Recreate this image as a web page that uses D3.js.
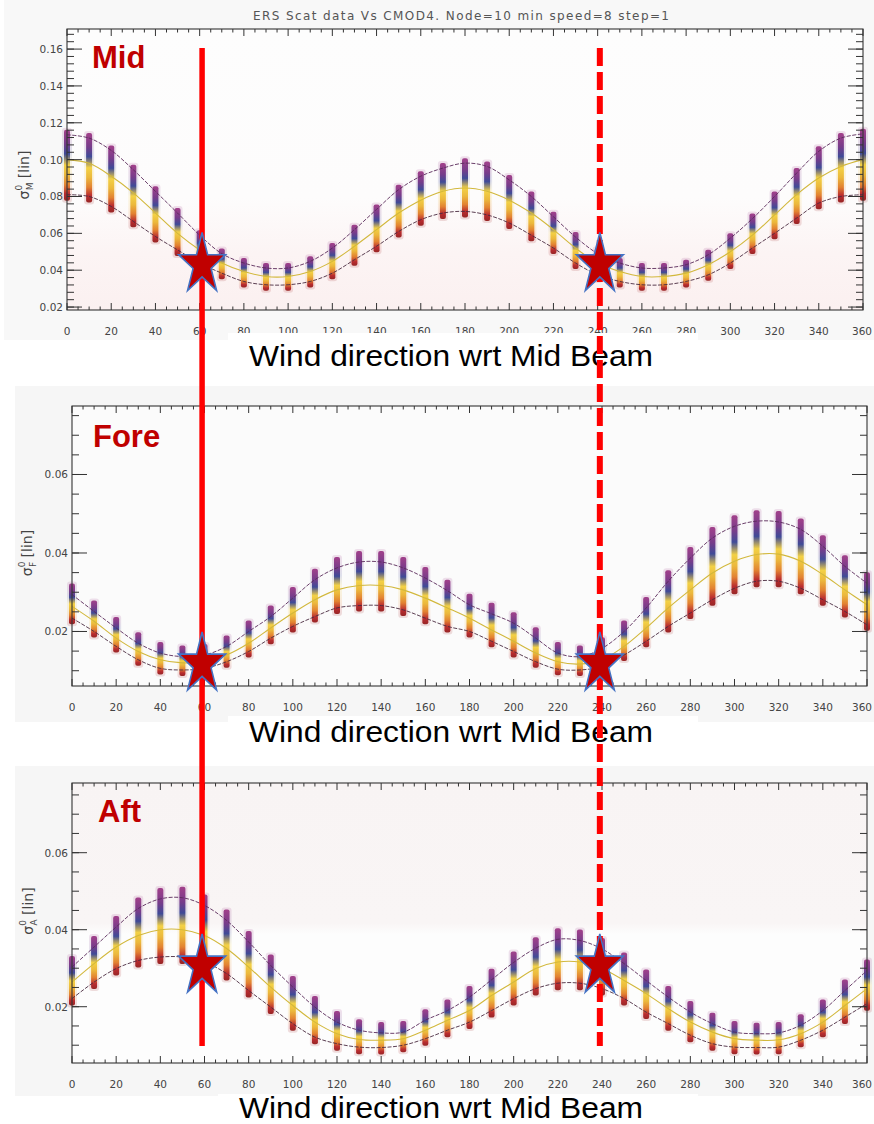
<!DOCTYPE html>
<html><head><meta charset="utf-8">
<script src="https://cdn.jsdelivr.net/npm/d3@7"></script>
<style>body{margin:0;background:#fff}svg{display:block}</style>
</head><body>
<svg id="chart" width="874" height="1124"></svg>
<script>
// ---------- DATA ----------
const directions = [0,10,20,30,40,50,60,70,80,90,100,110,120,130,140,150,160,170,180,190,200,210,220,230,240,250,260,270,280,290,300,310,320,330,340,350,360];
const xTickLabels = [0,20,40,60,80,100,120,140,160,180,200,220,240,260,280,300,320,340,360];

const midUpper  = [0.1135,0.1117,0.105,0.0945,0.0828,0.071,0.059,0.049,0.0439,0.0412,0.0412,0.0448,0.052,0.062,0.073,0.0837,0.091,0.0954,0.0981,0.0963,0.089,0.080,0.069,0.058,0.049,0.0439,0.0412,0.0412,0.043,0.0484,0.0574,0.068,0.080,0.0927,0.1045,0.1117,0.114];
const midMiddle = [0.100,0.098,0.091,0.082,0.071,0.060,0.051,0.0439,0.0393,0.0366,0.0366,0.0393,0.0448,0.053,0.062,0.071,0.078,0.0828,0.0846,0.0828,0.078,0.071,0.062,0.052,0.0439,0.0393,0.0366,0.0366,0.0384,0.043,0.050,0.059,0.070,0.081,0.090,0.0963,0.100];
const midLower  = [0.081,0.080,0.0746,0.0665,0.0583,0.051,0.0439,0.0384,0.0339,0.0321,0.0321,0.0339,0.0384,0.0457,0.053,0.061,0.0674,0.071,0.0719,0.070,0.0656,0.059,0.052,0.0439,0.0375,0.0339,0.0321,0.0321,0.0339,0.0375,0.0439,0.052,0.060,0.0683,0.0764,0.080,0.081];

const foreUpper  = [0.0294,0.0251,0.0209,0.017,0.0145,0.0136,0.014,0.0162,0.020,0.0238,0.0285,0.0332,0.0362,0.0377,0.0377,0.0362,0.0336,0.0304,0.0268,0.0245,0.0221,0.0183,0.0145,0.0136,0.0157,0.020,0.026,0.0328,0.0387,0.0438,0.0468,0.0481,0.0479,0.046,0.0417,0.0366,0.0323];
const foreMiddle = [0.0264,0.0226,0.0183,0.0149,0.0128,0.012,0.0123,0.014,0.017,0.0209,0.0247,0.0281,0.0306,0.0317,0.0317,0.0306,0.0285,0.026,0.0234,0.0204,0.0175,0.0145,0.0123,0.0117,0.0128,0.0162,0.0209,0.026,0.0306,0.0349,0.0379,0.0396,0.0397,0.0379,0.0345,0.0306,0.0268];
const foreLower  = [0.0234,0.020,0.0162,0.0128,0.0106,0.0102,0.0106,0.0123,0.0149,0.0183,0.0213,0.0238,0.026,0.0266,0.0266,0.0255,0.0234,0.0213,0.020,0.0175,0.0149,0.0123,0.0104,0.0102,0.0111,0.014,0.0175,0.0213,0.0247,0.0281,0.031,0.0328,0.0328,0.031,0.0281,0.0251,0.0217];

const aftUpper  = [0.0303,0.0355,0.0407,0.0455,0.048,0.0483,0.0463,0.0424,0.0368,0.0307,0.0251,0.0199,0.016,0.0139,0.0132,0.0134,0.0165,0.019,0.0225,0.027,0.0315,0.0352,0.0375,0.0372,0.035,0.0312,0.0268,0.0225,0.0186,0.0156,0.0134,0.013,0.0132,0.0152,0.019,0.0242,0.0294];
const aftMiddle = [0.0264,0.0312,0.0355,0.0385,0.040,0.040,0.0385,0.0351,0.0303,0.0251,0.0203,0.016,0.013,0.0115,0.0113,0.0117,0.0139,0.0165,0.019,0.0229,0.0264,0.0299,0.0316,0.0316,0.0299,0.0268,0.0234,0.0195,0.016,0.0134,0.0117,0.0113,0.0114,0.013,0.016,0.0203,0.0247];
const aftLower  = [0.0221,0.0264,0.0299,0.032,0.0329,0.0329,0.0316,0.0286,0.0242,0.0199,0.0156,0.0121,0.0104,0.0095,0.0094,0.01,0.0117,0.0139,0.016,0.019,0.0221,0.0247,0.0261,0.0261,0.0247,0.0221,0.0186,0.0156,0.0126,0.0104,0.0095,0.0094,0.0095,0.0113,0.0139,0.0173,0.0208];

const midYTicks  = [0.02,0.04,0.06,0.08,0.10,0.12,0.14,0.16];
const foreYTicks = [0.02,0.04,0.06];
const aftYTicks  = [0.02,0.04,0.06];

const beamLabels = ["Mid","Fore","Aft"];
const beamSubs = ["M","F","A"];
const markerDirections = [60, 240];
const markerValues = [[0.0447,0.0447],[0.01248,0.01248],[0.03135,0.03135]];
const titleText = "ERS Scat data Vs CMOD4. Node=10  min speed=8  step=1";
const xAxisTitle = "Wind direction wrt Mid Beam";

// ---------- LAYOUT ----------
const svg = d3.select("#chart");
const panels = [
  {label:beamLabels[0], sub:beamSubs[0], up:midUpper, mid:midMiddle, lo:midLower, yTicks:midYTicks,
   frame:{x0:67,x1:863,y0:29,y1:310}, yDom:[0.0184,0.1709], minorStep:0.004, minorFrom:0.02, minorTo:0.1685,
   bg:[4,0,870,340], bgFill:"#f8f8f8", padTop:5, padBot:6,
   labelPos:[92,68], ylabX:29, ylabY:175, titleBox:[228,333,470,50], titlePos:[249,366], markers:markerValues[0]},
  {label:beamLabels[1], sub:beamSubs[1], up:foreUpper, mid:foreMiddle, lo:foreLower, yTicks:foreYTicks,
   frame:{x0:72,x1:867,y0:406,y1:686}, yDom:[0.00611,0.07745], minorStep:0.005, minorFrom:0.01, minorTo:0.0751,
   bg:[15,386,859,336], bgFill:"#f6f6f6", padTop:11, padBot:6,
   labelPos:[93,447], ylabX:32, ylabY:553, titleBox:[228,716,470,40], titlePos:[249,742], markers:markerValues[1]},
  {label:beamLabels[2], sub:beamSubs[2], up:aftUpper, mid:aftMiddle, lo:aftLower, yTicks:aftYTicks,
   frame:{x0:72,x1:867,y0:783,y1:1063}, yDom:[0.00538,0.0781], minorStep:0.005, minorFrom:0.01, minorTo:0.0751,
   bg:[15,766,859,330], bgFill:"#f6f6f6", padTop:11, padBot:7,
   labelPos:[98,822], ylabX:33, ylabY:911, titleBox:[218,1094,480,30], titlePos:[239,1118], markers:markerValues[2]}
];

// defs
const defs = svg.append("defs");
const cg = defs.append("linearGradient").attr("id","clusterGrad").attr("x1",0).attr("y1",0).attr("x2",0).attr("y2",1);
[[0,"#9a2f80"],[0.2,"#6a2a80"],[0.34,"#2d3a8e"],[0.5,"#f2cd34"],[0.64,"#eab22a"],[0.78,"#e0761e"],[0.9,"#b3181c"],[1,"#8e1212"]]
  .forEach(([o,c])=>cg.append("stop").attr("offset",o).attr("stop-color",c));
const pg = defs.append("linearGradient").attr("id","pinkMid").attr("x1",0).attr("y1",0).attr("x2",0).attr("y2",1);
[[0,"#fdfdfd"],[0.6,"#fdfcfc"],[0.8,"#fcf4f4"],[1,"#fbf0f0"]].forEach(([o,c])=>pg.append("stop").attr("offset",o).attr("stop-color",c));
const ag = defs.append("linearGradient").attr("id","pinkAft").attr("x1",0).attr("y1",0).attr("x2",0).attr("y2",1);
[[0,"#f8f4f4"],[0.5,"#f9f5f5"],[0.54,"#fdfdfd"],[1,"#fdfdfd"]].forEach(([o,c])=>ag.append("stop").attr("offset",o).attr("stop-color",c));
const plotFills = ["url(#pinkMid)","#fbfbfb","url(#pinkAft)"];

const tickFont = "'DejaVu Sans', sans-serif";

panels.forEach((p,pi)=>{
  const g = svg.append("g");
  const f = p.frame;
  g.append("rect").attr("x",p.bg[0]).attr("y",p.bg[1]).attr("width",p.bg[2]).attr("height",p.bg[3]).attr("fill",p.bgFill);
  g.append("rect").attr("x",f.x0).attr("y",f.y0).attr("width",f.x1-f.x0).attr("height",f.y1-f.y0).attr("fill",plotFills[pi]);

  const x = d3.scaleLinear().domain([0,360]).range([f.x0,f.x1]);
  const y = d3.scaleLinear().domain(p.yDom).range([f.y1,f.y0]);

  // clusters
  const cl = g.append("g");
  directions.forEach((d,i)=>{
    const top = y(p.up[i]) - p.padTop, bot = y(p.lo[i]) + p.padBot;
    cl.append("rect").attr("x",x(d)-5).attr("y",top-2).attr("width",10).attr("height",bot-top+4)
      .attr("fill","url(#clusterGrad)").attr("opacity",0.14).attr("rx",3);
    cl.append("rect").attr("x",x(d)-3).attr("y",top).attr("width",6).attr("height",bot-top)
      .attr("fill","url(#clusterGrad)").attr("opacity",0.9).attr("rx",2);
  });

  // curves
  const line = d3.line().x((d,i)=>x(directions[i])).y(d=>y(d)).curve(d3.curveCatmullRom);
  g.append("path").datum(p.up).attr("d",line).attr("fill","none").attr("stroke","#5a2a5a").attr("stroke-width",0.9).attr("stroke-dasharray","4 1.5");
  g.append("path").datum(p.mid).attr("d",line).attr("fill","none").attr("stroke","#d2b83c").attr("stroke-width",1.1);
  g.append("path").datum(p.lo).attr("d",line).attr("fill","none").attr("stroke","#4a2a40").attr("stroke-width",0.9).attr("stroke-dasharray","4 1.5");

  // frame
  g.append("rect").attr("x",f.x0).attr("y",f.y0).attr("width",f.x1-f.x0).attr("height",f.y1-f.y0)
    .attr("fill","none").attr("stroke","#333").attr("stroke-width",1.1);

  // x ticks (bottom + top, inward)
  const xMinor = d3.range(0,361,5);
  const tk = g.append("g").attr("stroke","#333").attr("stroke-width",1);
  xMinor.forEach(v=>{
    const L = (v%20===0)?7:3.5;
    tk.append("line").attr("x1",x(v)).attr("x2",x(v)).attr("y1",f.y1).attr("y2",f.y1-L);
    tk.append("line").attr("x1",x(v)).attr("x2",x(v)).attr("y1",f.y0).attr("y2",f.y0+L);
  });
  // y ticks (left + right, inward)
  const yMinor = d3.range(p.minorFrom, p.minorTo, p.minorStep);
  yMinor.forEach(v=>{
    tk.append("line").attr("x1",f.x0).attr("x2",f.x0+7).attr("y1",y(v)).attr("y2",y(v));
    tk.append("line").attr("x1",f.x1).attr("x2",f.x1-7).attr("y1",y(v)).attr("y2",y(v));
  });
  p.yTicks.forEach(v=>{
    tk.append("line").attr("x1",f.x0).attr("x2",f.x0+15).attr("y1",y(v)).attr("y2",y(v));
    tk.append("line").attr("x1",f.x1).attr("x2",f.x1-15).attr("y1",y(v)).attr("y2",y(v));
  });

  // tick labels
  xTickLabels.forEach(v=>{
    g.append("text").attr("x",Math.min(x(v), 874-12)).attr("y",f.y1+25).attr("text-anchor","middle")
      .attr("font-family",tickFont).attr("font-size",10.5).attr("fill","#444").text(v);
  });
  p.yTicks.forEach(v=>{
    g.append("text").attr("x",f.x0-4).attr("y",y(v)+4).attr("text-anchor","end")
      .attr("font-family",tickFont).attr("font-size",10.5).attr("fill","#444").text(d3.format(".2f")(v));
  });

  // y axis label
  const yl = g.append("text").attr("transform",`translate(${p.ylabX},${p.ylabY}) rotate(-90)`)
    .attr("text-anchor","middle").attr("font-family",tickFont).attr("font-size",14).attr("fill","#444");
  yl.append("tspan").text("σ");
  yl.append("tspan").attr("font-size",9).attr("dy",-7).text("0");
  yl.append("tspan").attr("font-size",9).attr("dx",-5.5).attr("dy",11).text(p.sub);
  yl.append("tspan").attr("dy",-4).text(" [lin]");

  // beam label
  g.append("text").attr("x",p.labelPos[0]).attr("y",p.labelPos[1]).attr("font-family","'Liberation Sans', Arial, sans-serif")
    .attr("font-weight","bold").attr("font-size",31).attr("fill","#c00000").text(p.label);

  // axis title box + text
  svg.append("rect").attr("x",p.titleBox[0]).attr("y",p.titleBox[1]).attr("width",p.titleBox[2]).attr("height",p.titleBox[3]).attr("fill","#fff");
  svg.append("text").attr("x",p.titlePos[0]).attr("y",p.titlePos[1]).attr("font-family","'Liberation Sans', Arial, sans-serif")
    .attr("font-size",30).attr("fill","#000").attr("textLength",404).attr("lengthAdjust","spacingAndGlyphs").text(xAxisTitle);

  p.xScale = x; p.yScale = y;
});

// title
svg.append("text").attr("x",253).attr("y",20).attr("font-family",tickFont).attr("font-size",12).attr("fill","#555")
  .attr("textLength",416).attr("lengthAdjust","spacing").text(titleText);

// red marker lines (common direction scale across panels)
const xLine = d3.scaleLinear().domain([0,360]).range([69.5,865]);
svg.append("line").attr("x1",xLine(markerDirections[0])).attr("x2",xLine(markerDirections[0])).attr("y1",48).attr("y2",1046)
  .attr("stroke","#ff0000").attr("stroke-width",5.5);
svg.append("line").attr("x1",xLine(markerDirections[1])).attr("x2",xLine(markerDirections[1])).attr("y1",48).attr("y2",1046)
  .attr("stroke","#ff0000").attr("stroke-width",6).attr("stroke-dasharray","18 6");

// stars
function starPath(w,h){
  const pts=[];
  for(let i=0;i<10;i++){
    const a=-Math.PI/2+i*Math.PI/5, r=(i%2===0)?1:0.382;
    pts.push([r*Math.cos(a)*w/1.902, (r*Math.sin(a)+0.0955)*h/1.809]);
  }
  return "M"+pts.map(p=>p.join(",")).join("L")+"Z";
}
const sp = starPath(47,58);
panels.forEach(p=>{
  markerDirections.forEach((d,j)=>{
    svg.append("path").attr("d",sp).attr("transform",`translate(${xLine(d)},${p.yScale(p.markers[j])})`)
      .attr("fill","#c00000").attr("stroke","#4472c4").attr("stroke-width",1.6).attr("stroke-linejoin","miter");
  });
});
</script>
</body></html>
